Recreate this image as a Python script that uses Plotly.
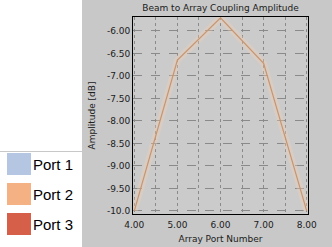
import plotly.graph_objects as go

port_numbers = [4, 5, 6, 7, 8]
port2_amplitude = [-10.0, -6.65, -5.71, -6.72, -10.0]
legend_names = ["Port 1", "Port 2", "Port 3"]
legend_colors = ["#b4c6e2", "#f4b183", "#d65f4a"]
y_ticks = [-10.0, -9.5, -9.0, -8.5, -8.0, -7.5, -7.0, -6.5, -6.0]
y_labels = ["-10.0", "-9.50", "-9.00", "-8.50", "-8.00", "-7.50", "-7.00", "-6.50", "-6.00"]
x_ticks = [4, 4.5, 5, 5.5, 6, 6.5, 7, 7.5, 8]
x_labels = ["4.00", "", "5.00", "", "6.00", "", "7.00", "", "8.00"]

W, H = 332, 247
L, R, T, B = 133, 308, 17, 214

def px(x):
    return (x - L) / (R - L)

def py(y):
    return (B - y) / (B - T)

fig = go.Figure()
fig.add_trace(go.Scatter(x=port_numbers, y=port2_amplitude, mode="lines",
                         line=dict(color="rgba(240,205,180,0.35)", width=7),
                         showlegend=False, hoverinfo="skip"))
fig.add_trace(go.Scatter(x=port_numbers, y=port2_amplitude, mode="lines",
                         line=dict(color="#c8956f", width=1.2),
                         name=legend_names[1], showlegend=False))

font = "DejaVu Sans, Verdana, sans-serif"
lfont = "Liberation Sans, Arial, sans-serif"
txt = "#202020"
shapes = [
    dict(type="rect", xref="paper", yref="paper", x0=px(0), x1=px(82), y0=py(H), y1=py(0),
         fillcolor="white", line=dict(width=0), layer="below"),
    dict(type="line", xref="paper", yref="paper", x0=px(0), x1=px(82), y0=py(151.5), y1=py(151.5),
         line=dict(color="#c8c8c8", width=1)),
]
annotations = []
tops = [153, 183, 213]
for name, color, top in zip(legend_names, legend_colors, tops):
    shapes.append(dict(type="rect", xref="paper", yref="paper", x0=px(7), x1=px(31),
                       y0=py(top + 22), y1=py(top), fillcolor=color, line=dict(width=0)))
    annotations.append(dict(text=name, xref="paper", yref="paper", x=px(32), y=py(top + 11),
                            xanchor="left", yanchor="middle", showarrow=False, borderpad=0,
                            font=dict(family=lfont, size=15, color="black")))

fig.update_layout(
    width=W, height=H,
    margin=dict(l=L, r=W - R, t=T, b=H - B, pad=0, autoexpand=False),
    paper_bgcolor="#c8c8c8", plot_bgcolor="#cbcbcb",
    title=dict(text="Beam to Array Coupling Amplitude", x=(L + R) / 2 / W, xanchor="center",
               y=1 - 8 / H, yanchor="middle", font=dict(family=font, size=9, color=txt)),
    shapes=shapes, annotations=annotations,
    xaxis=dict(range=[3.97, 8.03], tickvals=x_ticks, ticktext=x_labels, automargin=False,
               showgrid=True, gridcolor="#8a8a8a", griddash="dot", gridwidth=1,
               zeroline=False, showline=True, linecolor="black", linewidth=1, mirror=True,
               ticks="", ticklabelstandoff=2, tickfont=dict(family=font, size=9, color=txt),
               title=dict(text="Array Port Number", font=dict(family=font, size=9, color=txt), standoff=6)),
    yaxis=dict(range=[-10.07, -5.69], tickvals=y_ticks, ticktext=y_labels, automargin=False,
               showgrid=True, gridcolor="#8a8a8a", griddash="dash", gridwidth=1,
               zeroline=False, showline=True, linecolor="black", linewidth=1, mirror=True,
               ticks="", tickfont=dict(family=font, size=9, color=txt),
               title=dict(text="Amplitude [dB]", font=dict(family=font, size=9, color=txt), standoff=9)),
)
fig.write_html("out.html", config={"displayModeBar": False},
               post_script="document.body.style.margin='0';")
